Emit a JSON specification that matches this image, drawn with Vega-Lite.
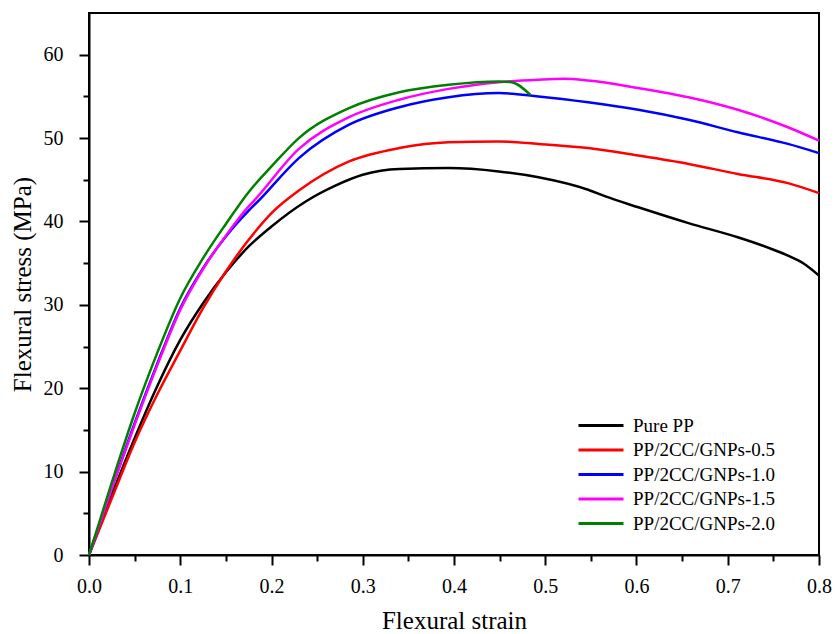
{
  "$schema": "https://vega.github.io/schema/vega-lite/v6.json",
  "autosize": {"type": "none"},
  "padding": {"left": 89, "top": 13, "right": 16, "bottom": 79},
  "width": 730,
  "height": 542,
  "background": "white",
  "data": {
    "values": [
      {"s": "Pure PP", "x": 0, "y": 0},
      {"s": "Pure PP", "x": 0.025, "y": 7.2},
      {"s": "Pure PP", "x": 0.05, "y": 14.0},
      {"s": "Pure PP", "x": 0.075, "y": 20.3},
      {"s": "Pure PP", "x": 0.1, "y": 25.8},
      {"s": "Pure PP", "x": 0.125, "y": 30.2},
      {"s": "Pure PP", "x": 0.15, "y": 33.9},
      {"s": "Pure PP", "x": 0.175, "y": 37.0},
      {"s": "Pure PP", "x": 0.2, "y": 39.4},
      {"s": "Pure PP", "x": 0.2375, "y": 42.4},
      {"s": "Pure PP", "x": 0.27, "y": 44.3},
      {"s": "Pure PP", "x": 0.3, "y": 45.6},
      {"s": "Pure PP", "x": 0.34, "y": 46.3},
      {"s": "Pure PP", "x": 0.394, "y": 46.4},
      {"s": "Pure PP", "x": 0.449, "y": 46.0},
      {"s": "Pure PP", "x": 0.4926, "y": 45.3},
      {"s": "Pure PP", "x": 0.547, "y": 43.8},
      {"s": "Pure PP", "x": 0.566, "y": 43.0},
      {"s": "Pure PP", "x": 0.602, "y": 41.7},
      {"s": "Pure PP", "x": 0.657, "y": 39.8},
      {"s": "Pure PP", "x": 0.711, "y": 38.1},
      {"s": "Pure PP", "x": 0.748, "y": 36.7},
      {"s": "Pure PP", "x": 0.766, "y": 35.9},
      {"s": "Pure PP", "x": 0.784, "y": 34.9},
      {"s": "Pure PP", "x": 0.8, "y": 33.5},

      {"s": "PP/2CC/GNPs-0.5", "x": 0, "y": 0},
      {"s": "PP/2CC/GNPs-0.5", "x": 0.025, "y": 6.8},
      {"s": "PP/2CC/GNPs-0.5", "x": 0.05, "y": 13.5},
      {"s": "PP/2CC/GNPs-0.5", "x": 0.075, "y": 19.3},
      {"s": "PP/2CC/GNPs-0.5", "x": 0.1, "y": 24.5},
      {"s": "PP/2CC/GNPs-0.5", "x": 0.125, "y": 29.6},
      {"s": "PP/2CC/GNPs-0.5", "x": 0.15, "y": 34.0},
      {"s": "PP/2CC/GNPs-0.5", "x": 0.175, "y": 37.8},
      {"s": "PP/2CC/GNPs-0.5", "x": 0.2, "y": 41.0},
      {"s": "PP/2CC/GNPs-0.5", "x": 0.23, "y": 43.7},
      {"s": "PP/2CC/GNPs-0.5", "x": 0.285, "y": 47.2},
      {"s": "PP/2CC/GNPs-0.5", "x": 0.34, "y": 48.8},
      {"s": "PP/2CC/GNPs-0.5", "x": 0.394, "y": 49.5},
      {"s": "PP/2CC/GNPs-0.5", "x": 0.449, "y": 49.6},
      {"s": "PP/2CC/GNPs-0.5", "x": 0.4926, "y": 49.3},
      {"s": "PP/2CC/GNPs-0.5", "x": 0.547, "y": 48.8},
      {"s": "PP/2CC/GNPs-0.5", "x": 0.602, "y": 47.9},
      {"s": "PP/2CC/GNPs-0.5", "x": 0.657, "y": 46.9},
      {"s": "PP/2CC/GNPs-0.5", "x": 0.711, "y": 45.7},
      {"s": "PP/2CC/GNPs-0.5", "x": 0.766, "y": 44.6},
      {"s": "PP/2CC/GNPs-0.5", "x": 0.8, "y": 43.4},

      {"s": "PP/2CC/GNPs-1.0", "x": 0, "y": 0},
      {"s": "PP/2CC/GNPs-1.0", "x": 0.025, "y": 8.0},
      {"s": "PP/2CC/GNPs-1.0", "x": 0.05, "y": 15.8},
      {"s": "PP/2CC/GNPs-1.0", "x": 0.075, "y": 23.0},
      {"s": "PP/2CC/GNPs-1.0", "x": 0.1, "y": 29.6},
      {"s": "PP/2CC/GNPs-1.0", "x": 0.125, "y": 34.4},
      {"s": "PP/2CC/GNPs-1.0", "x": 0.15, "y": 38.2},
      {"s": "PP/2CC/GNPs-1.0", "x": 0.175, "y": 41.3},
      {"s": "PP/2CC/GNPs-1.0", "x": 0.186, "y": 42.5},
      {"s": "PP/2CC/GNPs-1.0", "x": 0.23, "y": 47.6},
      {"s": "PP/2CC/GNPs-1.0", "x": 0.285, "y": 51.6},
      {"s": "PP/2CC/GNPs-1.0", "x": 0.34, "y": 53.7},
      {"s": "PP/2CC/GNPs-1.0", "x": 0.394, "y": 54.9},
      {"s": "PP/2CC/GNPs-1.0", "x": 0.449, "y": 55.4},
      {"s": "PP/2CC/GNPs-1.0", "x": 0.4926, "y": 55.0},
      {"s": "PP/2CC/GNPs-1.0", "x": 0.547, "y": 54.3},
      {"s": "PP/2CC/GNPs-1.0", "x": 0.602, "y": 53.4},
      {"s": "PP/2CC/GNPs-1.0", "x": 0.657, "y": 52.2},
      {"s": "PP/2CC/GNPs-1.0", "x": 0.711, "y": 50.7},
      {"s": "PP/2CC/GNPs-1.0", "x": 0.766, "y": 49.3},
      {"s": "PP/2CC/GNPs-1.0", "x": 0.8, "y": 48.2},

      {"s": "PP/2CC/GNPs-1.5", "x": 0, "y": 0},
      {"s": "PP/2CC/GNPs-1.5", "x": 0.025, "y": 8.0},
      {"s": "PP/2CC/GNPs-1.5", "x": 0.05, "y": 15.6},
      {"s": "PP/2CC/GNPs-1.5", "x": 0.075, "y": 22.8},
      {"s": "PP/2CC/GNPs-1.5", "x": 0.1, "y": 29.4},
      {"s": "PP/2CC/GNPs-1.5", "x": 0.125, "y": 34.3},
      {"s": "PP/2CC/GNPs-1.5", "x": 0.15, "y": 38.3},
      {"s": "PP/2CC/GNPs-1.5", "x": 0.175, "y": 41.8},
      {"s": "PP/2CC/GNPs-1.5", "x": 0.181, "y": 42.5},
      {"s": "PP/2CC/GNPs-1.5", "x": 0.23, "y": 48.7},
      {"s": "PP/2CC/GNPs-1.5", "x": 0.285, "y": 52.5},
      {"s": "PP/2CC/GNPs-1.5", "x": 0.34, "y": 54.6},
      {"s": "PP/2CC/GNPs-1.5", "x": 0.394, "y": 55.9},
      {"s": "PP/2CC/GNPs-1.5", "x": 0.449, "y": 56.7},
      {"s": "PP/2CC/GNPs-1.5", "x": 0.4926, "y": 57.0},
      {"s": "PP/2CC/GNPs-1.5", "x": 0.52, "y": 57.1},
      {"s": "PP/2CC/GNPs-1.5", "x": 0.547, "y": 56.9},
      {"s": "PP/2CC/GNPs-1.5", "x": 0.602, "y": 56.0},
      {"s": "PP/2CC/GNPs-1.5", "x": 0.657, "y": 54.9},
      {"s": "PP/2CC/GNPs-1.5", "x": 0.711, "y": 53.4},
      {"s": "PP/2CC/GNPs-1.5", "x": 0.766, "y": 51.3},
      {"s": "PP/2CC/GNPs-1.5", "x": 0.8, "y": 49.7},

      {"s": "PP/2CC/GNPs-2.0", "x": 0, "y": 0},
      {"s": "PP/2CC/GNPs-2.0", "x": 0.025, "y": 8.7},
      {"s": "PP/2CC/GNPs-2.0", "x": 0.05, "y": 17.0},
      {"s": "PP/2CC/GNPs-2.0", "x": 0.075, "y": 24.3},
      {"s": "PP/2CC/GNPs-2.0", "x": 0.1, "y": 30.8},
      {"s": "PP/2CC/GNPs-2.0", "x": 0.125, "y": 35.6},
      {"s": "PP/2CC/GNPs-2.0", "x": 0.15, "y": 39.7},
      {"s": "PP/2CC/GNPs-2.0", "x": 0.1755, "y": 43.6},
      {"s": "PP/2CC/GNPs-2.0", "x": 0.2, "y": 46.6},
      {"s": "PP/2CC/GNPs-2.0", "x": 0.23, "y": 50.0},
      {"s": "PP/2CC/GNPs-2.0", "x": 0.285, "y": 53.6},
      {"s": "PP/2CC/GNPs-2.0", "x": 0.34, "y": 55.5},
      {"s": "PP/2CC/GNPs-2.0", "x": 0.394, "y": 56.4},
      {"s": "PP/2CC/GNPs-2.0", "x": 0.449, "y": 56.8},
      {"s": "PP/2CC/GNPs-2.0", "x": 0.463, "y": 56.7},
      {"s": "PP/2CC/GNPs-2.0", "x": 0.4835, "y": 55.2}
    ]
  },
  "mark": {"type": "line", "strokeWidth": 2.5, "interpolate": "monotone"},
  "encoding": {
    "x": {
      "field": "x",
      "type": "quantitative",
      "scale": {"domain": [0, 0.8], "nice": false, "zero": false},
      "axis": {
        "title": "Flexural strain",
        "values": [0, 0.05, 0.1, 0.15, 0.2, 0.25, 0.3, 0.35, 0.4, 0.45, 0.5, 0.55, 0.6, 0.65, 0.7, 0.75, 0.8],
        "format": ".1f",
        "labelExpr": "round(datum.value * 100) % 10 === 0 ? datum.label : ''",
        "tickSize": {"condition": {"test": "round(datum.value * 100) % 10 === 0", "value": 10}, "value": 6},
        "labelFont": "Liberation Serif",
        "labelPadding": 11,
        "titlePadding": 12,
        "labelFlush": false,
        "labelOverlap": false
      }
    },
    "y": {
      "field": "y",
      "type": "quantitative",
      "scale": {"domain": [0, 65], "nice": false},
      "axis": {
        "title": "Flexural stress (MPa)",
        "values": [0, 5, 10, 15, 20, 25, 30, 35, 40, 45, 50, 55, 60],
        "format": "d",
        "labelExpr": "datum.value % 10 === 0 ? datum.label : ''",
        "tickSize": {"condition": {"test": "datum.value % 10 === 0", "value": 10}, "value": 6},
        "labelFont": "Liberation Serif",
        "labelPadding": 16,
        "titlePadding": 8,
        "labelOverlap": false
      }
    },
    "color": {
      "field": "s",
      "type": "nominal",
      "scale": {
        "domain": ["Pure PP", "PP/2CC/GNPs-0.5", "PP/2CC/GNPs-1.0", "PP/2CC/GNPs-1.5", "PP/2CC/GNPs-2.0"],
        "range": ["#000000", "#ff0000", "#0000ff", "#ff00ff", "#008000"]
      },
      "legend": {
        "title": null,
        "orient": "none",
        "legendX": 502.5,
        "legendY": 403,
        "symbolType": "M -3 0 L 3 0",
        "symbolSize": 225,
        "symbolStrokeWidth": 3,
        "labelFontSize": 19,
        "labelFont": "Liberation Serif",
        "labelOffset": 22.5,
        "rowPadding": 4.5,
        "padding": 0
      }
    }
  },
  "config": {
    "font": "Liberation Serif",
    "view": {"stroke": "black", "strokeWidth": 2},
    "axis": {
      "grid": false,
      "domainColor": "black",
      "domainWidth": 2,
      "tickColor": "black",
      "tickWidth": 2,
      "labelColor": "black",
      "labelFont": "Liberation Serif",
      "labelFontSize": 20,
      "titleFont": "Liberation Serif",
      "titleFontSize": 25,
      "titleFontWeight": "normal",
      "titleColor": "black"
    },
    "legend": {
      "labelFont": "Liberation Serif",
      "labelColor": "black",
      "labelLimit": 300
    }
  }
}
